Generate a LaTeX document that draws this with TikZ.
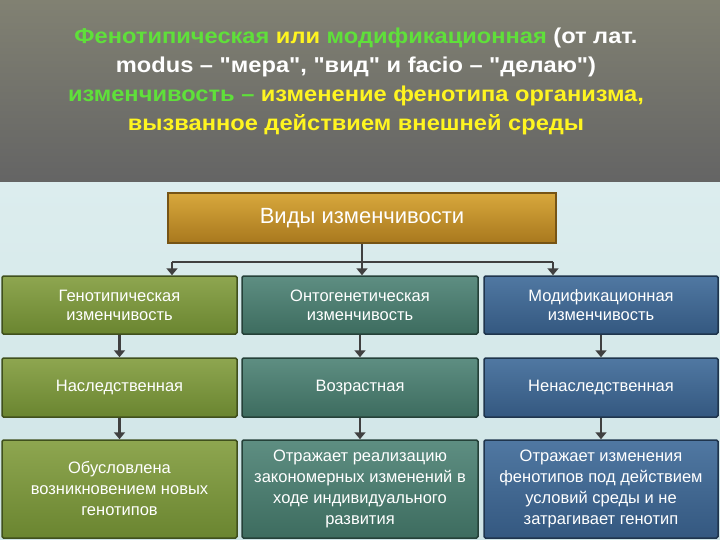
\documentclass[tikz,border=0pt]{standalone}
\usepackage{fontspec}
\setmainfont{Liberation Sans}
\newcommand\sq{\XeTeXglyph\XeTeXcharglyph"22\relax}
\usetikzlibrary{arrows.meta}
\definecolor{tgreen}{HTML}{5FE03A}
\definecolor{tyellow}{HTML}{FFF520}
\definecolor{olv}{HTML}{6A8530}
\definecolor{olvL}{HTML}{8EA650}
\definecolor{tel}{HTML}{3D6C5F}
\definecolor{telL}{HTML}{5E8E82}
\definecolor{blu}{HTML}{345880}
\definecolor{bluL}{HTML}{5078A2}
\definecolor{goldT}{HTML}{D8A83C}
\definecolor{goldB}{HTML}{A8781E}
\definecolor{bgT}{HTML}{DCEDEE}
\definecolor{bgB}{HTML}{CFE4E6}
\tikzset{
 bx/.style={draw=#1!60!black, line width=1.5pt, rounded corners=1.5pt, text=white, align=center, inner sep=0pt},
 ol/.style={bx=olv, top color=olvL, bottom color=olv},
 te/.style={bx=tel, top color=telL, bottom color=tel},
 bl/.style={bx=blu, top color=bluL, bottom color=blu},
 tx/.style={text=white,align=center,font=\fontsize{16.5}{19}\selectfont},
 tx3/.style={text=white,align=center,font=\fontsize{16.5}{21}\selectfont},
 ar/.style={draw=black!75, line width=2.8pt, -{Triangle[length=7pt,width=11pt]}},
 ln/.style={draw=black!75, line width=2.8pt},
}
\begin{document}
\begin{tikzpicture}[x=1pt,y=-1pt]
\useasboundingbox (0,0) rectangle (720,540);
\shade[top color=black!40!olive!10!gray!95, bottom color=black!35!gray!90] (0,0) rectangle (720,183);
\shade[top color=bgT, bottom color=bgB] (0,183) rectangle (720,540);
\node[align=center, xscale=1.1, transform shape, font=\bfseries\fontsize{21.5}{29}\selectfont] (title) at (356,81) {%
\textcolor{tgreen}{Фенотипическая} \textcolor{tyellow}{или} \textcolor{tgreen}{модификационная} \textcolor{white}{(от лат.}\\
\textcolor{white}{modus – \sq мера\sq, \sq вид\sq\ и facio – \sq делаю\sq)}\\
\textcolor{tgreen}{изменчивость –} \textcolor{tyellow}{изменение фенотипа организма,}\\
\textcolor{tyellow}{вызванное действием внешней среды}};
\node[draw=goldB!70!black, line width=1.5pt, top color=goldT, bottom color=goldB, text=white, minimum width=388pt, minimum height=50pt, font=\fontsize{22}{25}\selectfont] (top) at (362,218) {Виды изменчивости};
\foreach \n/\s/\x/\w in {a/ol/119.5/235, b/te/360/236, c/bl/601/234}{
 \node[\s, minimum width=\w pt, minimum height=58pt] (\n1) at (\x,305) {};
 \node[\s, minimum width=\w pt, minimum height=59pt] (\n2) at (\x,387.5) {};
 \node[\s, minimum width=\w pt, minimum height=98pt] (\n3) at (\x,489) {};
}
\node[tx] at (a1) {Генотипическая\\изменчивость};
\node[tx] at (b1) {Онтогенетическая\\изменчивость};
\node[tx] at (c1) {Модификационная\\изменчивость};
\node[tx] at (a2) {Наследственная};
\node[tx] at (b2) {Возрастная};
\node[tx] at (c2) {Ненаследственная};
\node[tx3] at (a3) {Обусловлена\\возникновением новых\\генотипов};
\node[tx3] at (b3) {Отражает реализацию\\закономерных изменений в\\ходе индивидуального\\развития};
\node[tx3] at (c3) {Отражает изменения\\фенотипов под действием\\условий среды и не\\затрагивает генотип};
\coordinate (jt) at (top.south |- 0,262);
\coordinate (jl) at (172,262);
\coordinate (jr) at (553,262);
\draw[ln] (top.south) -- (jt);
\draw[ln] (jl) -- (jr);
\draw[ar] (jl) -- (jl |- a1.north);
\draw[ar] (jt) -- (jt |- b1.north);
\draw[ar] (jr) -- (jr |- c1.north);
\foreach \n in {a,b,c}{
 \draw[ar] (\n1.south) -- (\n2.north);
 \draw[ar] (\n2.south) -- (\n3.north);
}
\end{tikzpicture}
\end{document}
